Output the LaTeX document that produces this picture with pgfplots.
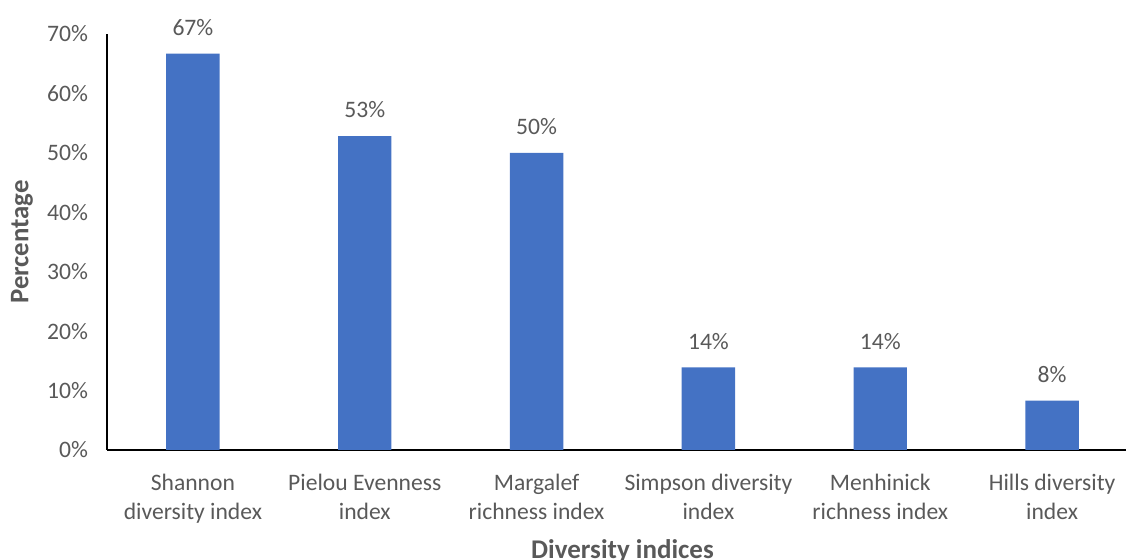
\documentclass[border=0pt]{standalone}
\usepackage{fontspec}
\setmainfont{Carlito}
\usepackage{pgfplots}
\pgfplotsset{compat=1.18}
\definecolor{barblue}{HTML}{4472C4}
\definecolor{txtgray}{HTML}{595959}
\begin{document}
\begin{tikzpicture}
\useasboundingbox (0,0) rectangle (563pt,280pt);
\begin{axis}[
  at={(53.5pt,55pt)}, anchor=south west,
  scale only axis,
  width=509.5pt, height=208pt,
  xmin=-0.5, xmax=5.43,
  ymin=0, ymax=70,
  axis x line*=bottom, axis y line*=left,
  axis line style={black, line width=0.6pt},
  x axis line style={-}, y axis line style={-},
  ytick={0,10,20,30,40,50,60,70},
  yticklabels={0\%,10\%,20\%,30\%,40\%,50\%,60\%,70\%},
  xtick={0,1,2,3,4,5},
  xticklabels={Shannon\\diversity index, Pielou Evenness\\index, Margalef\\richness index, Simpson diversity\\index, Menhinick\\richness index, Hills diversity\\index},
  major tick length=0pt,
  tick label style={font=\fontsize{11.8}{14.5}\selectfont, text=txtgray},
  xticklabel style={align=center, yshift=-8.5pt},
  yticklabel style={xshift=-6pt},
  ylabel={\textbf{Percentage}},
  xlabel={\textbf{Diversity indices}},
  every axis y label/.style={at={(axis description cs:-0.0834,0.5)}, rotate=90, anchor=center, font=\fontsize{13.4}{16}\selectfont, text=txtgray},
  every axis x label/.style={at={(axis description cs:0.5,0)}, anchor=base, yshift=-54.5pt, xshift=3pt, font=\fontsize{13.5}{16}\selectfont, text=txtgray},
  clip=false,
  ybar, bar width=26.7pt,
  /pgf/number format/assume math mode=true,
  nodes near coords={\pgfmathprintnumber[fixed,precision=0,assume math mode=true]{\pgfplotspointmeta}\%},
  every node near coord/.append style={font=\fontsize{11.8}{13.75}\selectfont, text=txtgray, yshift=5.5pt},
]
\addplot[fill=barblue, draw=none] coordinates {(0,66.7) (1,52.8) (2,50.0) (3,13.9) (4,13.9) (5,8.3)};
\end{axis}
\end{tikzpicture}
\end{document}
